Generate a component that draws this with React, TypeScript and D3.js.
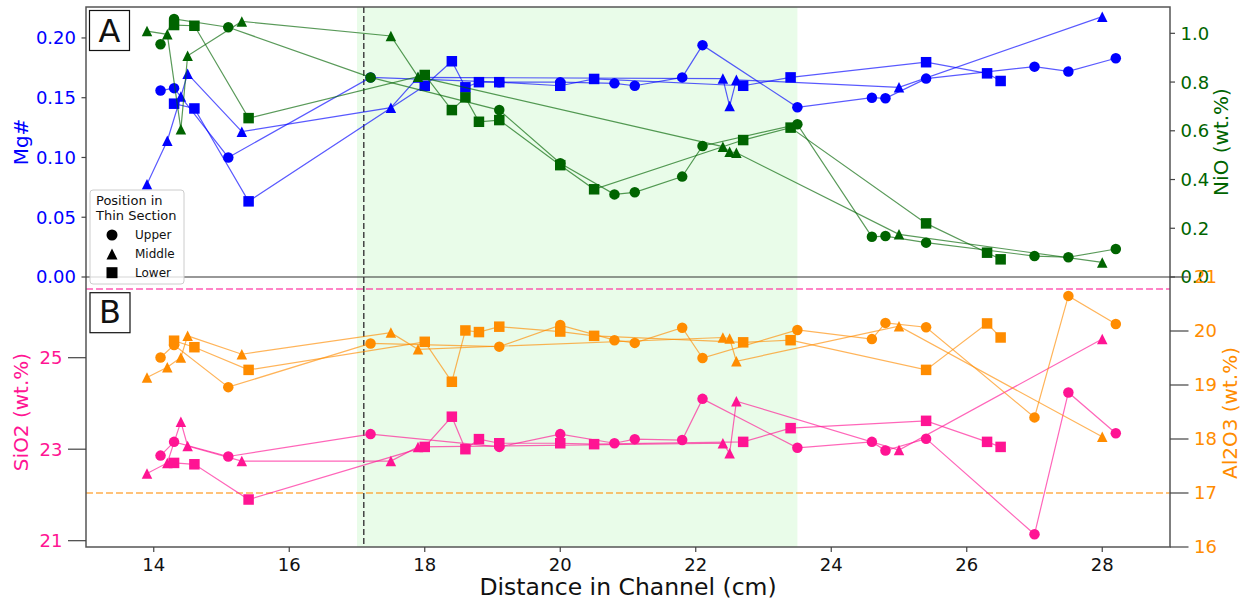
import React from 'react';
import * as d3 from 'd3';

// ---------- data ----------
const upperDist = [14.1, 14.3, 15.1, 17.2, 19.1, 20.0, 20.8, 21.1, 21.8, 22.1, 23.5, 24.6, 24.8, 25.4, 27.0, 27.5, 28.2];
const upperMg = [0.156, 0.158, 0.100, 0.167, 0.163, 0.163, 0.162, 0.160, 0.167, 0.194, 0.142, 0.150, 0.1495, 0.166, 0.176, 0.172, 0.183];
const upperNiO = [0.955, 1.059, 1.025, 0.819, 0.685, 0.4665, 0.339, 0.3475, 0.412, 0.5375, 0.6265, 0.165, 0.168, 0.141, 0.086, 0.081, 0.115];
const upperSiO2 = [22.86, 23.16, 22.84, 23.33, 23.05, 23.33, 23.13, 23.22, 23.20, 24.10, 23.03, 23.16, 22.97, 23.23, 21.14, 24.24, 23.35];
const upperAl2O3 = [19.51, 19.74, 18.96, 19.77, 19.71, 20.11, 19.83, 19.78, 20.06, 19.50, 20.02, 19.85, 20.15, 20.07, 18.40, 20.65, 20.13];

const middleDist = [13.9, 14.2, 14.4, 14.5, 15.3, 17.5, 17.9, 22.4, 22.5, 22.6, 25.0, 28.0];
const middleMg = [0.0776, 0.114, 0.151, 0.170, 0.1216, 0.1417, 0.167, 0.166, 0.143, 0.165, 0.1587, 0.2178];
const middleNiO = [1.009, 0.996, 0.606, 0.908, 1.049, 0.989, 0.822, 0.535, 0.514, 0.510, 0.175, 0.060];
const middleSiO2 = [22.47, 22.70, 23.60, 23.07, 22.74, 22.74, 23.05, 23.13, 22.91, 24.05, 22.98, 25.41];
const middleAl2O3 = [19.14, 19.33, 19.51, 19.91, 19.57, 19.97, 19.66, 19.88, 19.86, 19.44, 20.09, 18.04];

const lowerDist = [14.3, 14.6, 15.4, 18.0, 18.4, 18.6, 18.8, 19.1, 20.0, 20.5, 22.7, 23.4, 25.4, 26.3, 26.5];
const lowerMg = [0.145, 0.141, 0.0633, 0.160, 0.1805, 0.1587, 0.163, 0.163, 0.160, 0.1657, 0.160, 0.167, 0.1797, 0.1704, 0.164];
const lowerNiO = [1.034, 1.031, 0.652, 0.829, 0.685, 0.737, 0.637, 0.644, 0.459, 0.360, 0.562, 0.613, 0.220, 0.0998, 0.0725];
const lowerSiO2 = [22.70, 22.67, 21.90, 23.05, 23.71, 23.00, 23.22, 23.13, 23.13, 23.11, 23.16, 23.46, 23.62, 23.16, 23.05];
const lowerAl2O3 = [19.82, 19.70, 19.28, 19.80, 19.06, 20.01, 19.98, 20.08, 19.99, 19.91, 19.79, 19.83, 19.28, 20.14, 19.88];

const xTicks = [14, 16, 18, 20, 22, 24, 26, 28];
const mgTicks = [0, 0.05, 0.1, 0.15, 0.2];
const niTicks = [0, 0.2, 0.4, 0.6, 0.8, 1.0];
const siTicks = [21, 23, 25];
const alTicks = [16, 17, 18, 19, 20, 21];

const shadeRange = [17, 23.5];
const vLineX = 17.1;
const siRef = 26.5;
const alRef = 17;

const legendLabels = ['Upper', 'Middle', 'Lower'];

// ---------- layout ----------
const W = 1247, H = 602;
const L = 86, R = 1170, T = 7, MID = 277, B = 547;
const FONT = 'DejaVu Sans, sans-serif';

const BLUE = '#0000ff', GREEN = '#006400', PINK = '#ff1493', ORANGE = '#ff8c00';

const x = d3.scaleLinear().domain([13, 29]).range([L, R]);
const yMg = d3.scaleLinear().domain([0, 0.2259]).range([MID, T]);
const yNi = d3.scaleLinear().domain([0, 1.108]).range([MID, T]);
const ySi = d3.scaleLinear().domain([20.862, 26.764]).range([B, MID]);
const yAl = d3.scaleLinear().domain([16, 21]).range([B, MID]);

type Shape = 'circle' | 'triangle' | 'square';

function Marker({ shape, cx, cy, fill, s = 10.5 }: { shape: Shape; cx: number; cy: number; fill: string; s?: number }) {
  const h = s / 2;
  if (shape === 'circle') return <circle cx={cx} cy={cy} r={h} fill={fill} />;
  if (shape === 'square') return <rect x={cx - h} y={cy - h} width={s} height={s} fill={fill} />;
  return <path d={`M${cx},${cy - h}L${cx + h},${cy + h}L${cx - h},${cy + h}Z`} fill={fill} />;
}

function Series({ xs, ys, yScale, color, shape }: { xs: number[]; ys: number[]; yScale: d3.ScaleLinear<number, number>; color: string; shape: Shape }) {
  const pts = xs.map((d, i) => [x(d), yScale(ys[i])] as [number, number]);
  const line = d3.line()(pts) || '';
  return (
    <g>
      <path d={line} fill="none" stroke={color} strokeOpacity={0.65} strokeWidth={1.2} />
      {pts.map((p, i) => (
        <Marker key={i} shape={shape} cx={p[0]} cy={p[1]} fill={color} />
      ))}
    </g>
  );
}

function LeftAxis({ ticks, scale, color, len, fmt }: { ticks: number[]; scale: d3.ScaleLinear<number, number>; color: string; len: number; fmt: (v: number) => string }) {
  return (
    <g>
      {ticks.map((t) => (
        <g key={t}>
          <line x1={L - len} x2={L} y1={scale(t)} y2={scale(t)} stroke="#444" strokeWidth={1.2} />
          <text x={L - len - 5.5} y={scale(t)} dy="0.36em" textAnchor="end" fill={color} fontSize={18} fontFamily={FONT}>{fmt(t)}</text>
        </g>
      ))}
    </g>
  );
}

function RightAxis({ ticks, scale, color, len, fmt }: { ticks: number[]; scale: d3.ScaleLinear<number, number>; color: string; len: number; fmt: (v: number) => string }) {
  return (
    <g>
      {ticks.map((t) => (
        <g key={t}>
          <line x1={R} x2={R + len} y1={scale(t)} y2={scale(t)} stroke="#444" strokeWidth={1.2} />
          <text x={R + len + 5.5} y={scale(t)} dy="0.36em" textAnchor="start" fill={color} fontSize={18} fontFamily={FONT}>{fmt(t)}</text>
        </g>
      ))}
    </g>
  );
}

export default function App() {
  const shapes: Shape[] = ['circle', 'triangle', 'square'];
  const dists = [upperDist, middleDist, lowerDist];
  const mg = [upperMg, middleMg, lowerMg];
  const ni = [upperNiO, middleNiO, lowerNiO];
  const si = [upperSiO2, middleSiO2, lowerSiO2];
  const al = [upperAl2O3, middleAl2O3, lowerAl2O3];
  const f2 = d3.format('.2f');
  const f1 = d3.format('.1f');
  const f0 = d3.format('d');

  return (
    <svg width={W} height={H} style={{ position: 'absolute', left: 0, top: 0, background: '#fff' }} fontFamily={FONT}>
      {/* shaded region */}
      <rect x={x(shadeRange[0])} y={T} width={x(shadeRange[1]) - x(shadeRange[0])} height={B - T} fill="#90ee90" fillOpacity={0.2} />

      {/* reference dashed lines */}
      <line x1={L} x2={R} y1={ySi(siRef)} y2={ySi(siRef)} stroke={PINK} strokeOpacity={0.7} strokeWidth={1.5} strokeDasharray="7,3" />
      <line x1={L} x2={R} y1={yAl(alRef)} y2={yAl(alRef)} stroke={ORANGE} strokeOpacity={0.7} strokeWidth={1.5} strokeDasharray="7,3" />
      <line x1={x(vLineX)} x2={x(vLineX)} y1={T} y2={B} stroke="#444" strokeWidth={1.5} strokeDasharray="6,3" />

      {/* top panel series */}
      {shapes.map((s, i) => (
        <Series key={'mg' + s} xs={dists[i]} ys={mg[i]} yScale={yMg} color={BLUE} shape={s} />
      ))}
      {shapes.map((s, i) => (
        <Series key={'ni' + s} xs={dists[i]} ys={ni[i]} yScale={yNi} color={GREEN} shape={s} />
      ))}

      {/* bottom panel series */}
      {shapes.map((s, i) => (
        <Series key={'si' + s} xs={dists[i]} ys={si[i]} yScale={ySi} color={PINK} shape={s} />
      ))}
      {shapes.map((s, i) => (
        <Series key={'al' + s} xs={dists[i]} ys={al[i]} yScale={yAl} color={ORANGE} shape={s} />
      ))}

      {/* frames */}
      <rect x={L} y={T} width={R - L} height={B - T} fill="none" stroke="#555" strokeWidth={1.5} />
      <line x1={L} x2={R} y1={MID} y2={MID} stroke="#333" strokeWidth={1.2} />

      {/* axes */}
      <LeftAxis ticks={mgTicks} scale={yMg} color={BLUE} len={4.5} fmt={f2} />
      <RightAxis ticks={niTicks} scale={yNi} color={GREEN} len={5} fmt={f1} />
      <LeftAxis ticks={siTicks} scale={ySi} color={PINK} len={18} fmt={f0} />
      <RightAxis ticks={alTicks} scale={yAl} color={ORANGE} len={18.5} fmt={f0} />
      {xTicks.map((t) => (
        <g key={t}>
          <line x1={x(t)} x2={x(t)} y1={B} y2={B + 5} stroke="#444" strokeWidth={1.2} />
          <text x={x(t)} y={570.5} textAnchor="middle" fontSize={18} fill="#111">{t}</text>
        </g>
      ))}

      {/* axis labels */}
      <text transform="translate(27.5,142) rotate(-90)" textAnchor="middle" fontSize={20} fill={BLUE}>Mg#</text>
      <text transform="translate(27.5,412) rotate(-90)" textAnchor="middle" fontSize={20} fill={PINK}>SiO2 (wt.%)</text>
      <text transform="translate(1228,142) rotate(-90)" textAnchor="middle" fontSize={20} fill={GREEN}>NiO (wt.%)</text>
      <text transform="translate(1237,413) rotate(-90)" textAnchor="middle" fontSize={20} fill={ORANGE}>Al2O3 (wt.%)</text>
      <text x={(L + R) / 2} y={595} textAnchor="middle" fontSize={23.5} fill="#111">Distance in Channel (cm)</text>

      {/* panel labels */}
      <rect x={89.5} y={10.5} width={40} height={40} fill="#fff" stroke="#111" strokeWidth={1.2} />
      <text x={109.5} y={42} textAnchor="middle" fontSize={32} fill="#111">A</text>
      <rect x={90} y={292.7} width={40} height={40} fill="#fff" stroke="#111" strokeWidth={1.2} />
      <text x={110} y={323} textAnchor="middle" fontSize={32} fill="#111">B</text>

      {/* legend */}
      <rect x={90} y={190} width={94} height={94} rx={3} fill="#fff" fillOpacity={0.8} stroke="#ccc" strokeWidth={1} />
      <text x={96} y={204.5} fontSize={13} fill="#111">Position in</text>
      <text x={96} y={219.5} fontSize={13} fill="#111">Thin Section</text>
      {legendLabels.map((lab, i) => {
        const cy = [235, 254, 272.7][i];
        return (
          <g key={lab}>
            <Marker shape={shapes[i]} cx={112} cy={cy} fill="#000" s={11} />
            <text x={135} y={cy} dy="0.36em" fontSize={12} fill="#111">{lab}</text>
          </g>
        );
      })}
    </svg>
  );
}
